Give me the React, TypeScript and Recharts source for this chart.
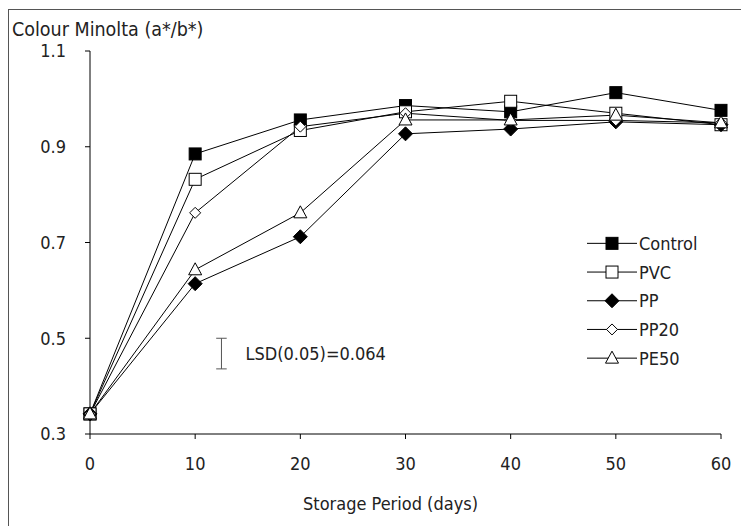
import React from 'react';
import { LineChart, Line, XAxis, YAxis, Legend, ReferenceLine } from 'recharts';

const days = [0, 10, 20, 30, 40, 50, 60];
const control = [0.342, 0.885, 0.956, 0.986, 0.973, 1.013, 0.976];
const pvc = [0.342, 0.832, 0.934, 0.973, 0.995, 0.97, 0.946];
const pp = [0.342, 0.614, 0.712, 0.927, 0.937, 0.952, 0.946];
const pp20 = [0.342, 0.762, 0.942, 0.97, 0.955, 0.955, 0.95];
const pe50 = [0.342, 0.643, 0.762, 0.956, 0.956, 0.966, 0.95];

const seriesNames = ['Control', 'PVC', 'PP', 'PP20', 'PE50'];
const seriesValues = [control, pvc, pp, pp20, pe50];
const seriesShapes = ['squareFilled', 'squareOpen', 'diamondFilled', 'diamondOpen', 'triangleOpen'];

const xTicks = [0, 10, 20, 30, 40, 50, 60];
const yTicks = [0.3, 0.5, 0.7, 0.9, 1.1];

const lsdLabel = 'LSD(0.05)=0.064';
const lsdValue = 0.064;
const lsdDay = 12.5;
const lsdTop = 0.5;
const lsdCapHalf = 0.5;

const data = days.map((d, i) => {
  const row: Record<string, number> = { day: d };
  seriesNames.forEach((n, j) => {
    row[n] = seriesValues[j][i];
  });
  return row;
});

const FONT = "'DejaVu Sans Condensed', 'DejaVu Sans', sans-serif";
const TXT = '#222';

function Marker({ cx, cy, shape }: { cx: number; cy: number; shape: string }) {
  switch (shape) {
    case 'squareFilled':
      return <rect x={cx - 6} y={cy - 6} width={12} height={12} fill="#000" stroke="#000" strokeWidth={1} />;
    case 'squareOpen':
      return <rect x={cx - 6} y={cy - 6} width={12} height={12} fill="#fff" stroke="#000" strokeWidth={1} />;
    case 'diamondFilled':
      return (
        <polygon
          points={`${cx},${cy - 7} ${cx + 7},${cy} ${cx},${cy + 7} ${cx - 7},${cy}`}
          fill="#000"
          stroke="#000"
          strokeWidth={1}
        />
      );
    case 'diamondOpen':
      return (
        <polygon
          points={`${cx},${cy - 5.5} ${cx + 5.5},${cy} ${cx},${cy + 5.5} ${cx - 5.5},${cy}`}
          fill="#fff"
          stroke="#000"
          strokeWidth={1}
        />
      );
    default:
      return (
        <polygon
          points={`${cx},${cy - 7} ${cx + 6.5},${cy + 5} ${cx - 6.5},${cy + 5}`}
          fill="#fff"
          stroke="#000"
          strokeWidth={1}
        />
      );
  }
}

const makeDot = (shape: string) => (props: any) => {
  const { cx, cy, index } = props;
  if (cx == null || cy == null) return <g key={`d-${shape}-${index}`} />;
  return (
    <g key={`d-${shape}-${index}`}>
      <Marker cx={cx} cy={cy} shape={shape} />
    </g>
  );
};

const ROW_H = 28.7;

const renderLegend = () => (
  <svg width={160} height={ROW_H * seriesNames.length} style={{ display: 'block', overflow: 'visible' }}>
    {seriesNames.map((n, i) => {
      const y = ROW_H / 2 + i * ROW_H;
      return (
        <g key={n}>
          <line x1={0} x2={50} y1={y} y2={y} stroke="#000" strokeWidth={1} />
          <Marker cx={25} cy={y} shape={seriesShapes[i]} />
          <text x={52} y={y} dy="0.36em" fontFamily={FONT} fontSize={18} fill={TXT}>
            {n}
          </text>
        </g>
      );
    })}
  </svg>
);

export default function App() {
  return (
    <div
      style={{
        position: 'relative',
        top: 1,
        width: 740,
        height: 517,
        borderLeft: '1px solid #555',
        borderTop: '1px solid #555',
        background: '#fff',
      }}
    >
      <LineChart width={740} height={517} data={data} margin={{ top: 41, right: 28, bottom: 33, left: 0 }}>
        <XAxis
          dataKey="day"
          type="number"
          domain={[0, 60]}
          ticks={xTicks}
          interval={0}
          height={60}
          tickSize={5}
          tickMargin={18}
          stroke="#000"
          tick={{ fill: TXT, fontSize: 18, fontFamily: FONT }}
          label={{
            content: (p: any) => {
              const vb = p.viewBox || {};
              return (
                <text
                  x={vb.x + vb.width / 2 - 15}
                  y={vb.y + vb.height + 16}
                  textAnchor="middle"
                  fontFamily={FONT}
                  fontSize={18}
                  fill={TXT}
                >
                  Storage Period (days)
                </text>
              );
            },
          }}
        />
        <YAxis
          type="number"
          domain={[0.3, 1.1]}
          ticks={yTicks}
          interval={0}
          width={81}
          tickSize={5}
          tickMargin={19}
          stroke="#000"
          tickFormatter={(v: number) => v.toFixed(1)}
          tick={{ fill: TXT, fontSize: 18, fontFamily: FONT }}
          label={{
            content: (p: any) => {
              const vb = p.viewBox || {};
              return (
                <text x={vb.x + 3} y={vb.y - 15} textAnchor="start" fontFamily={FONT} fontSize={19.5} fill={TXT}>
                  Colour Minolta (a*/b*)
                </text>
              );
            },
          }}
        />
        <ReferenceLine
          segment={[
            { x: lsdDay, y: lsdTop },
            { x: lsdDay, y: lsdTop - lsdValue },
          ]}
          stroke="#555"
          strokeWidth={1}
          label={{ value: lsdLabel, position: 'right', offset: 24, fill: TXT, fontSize: 18, fontFamily: FONT }}
        />
        <ReferenceLine
          segment={[
            { x: lsdDay - lsdCapHalf, y: lsdTop },
            { x: lsdDay + lsdCapHalf, y: lsdTop },
          ]}
          stroke="#555"
          strokeWidth={1}
        />
        <ReferenceLine
          segment={[
            { x: lsdDay - lsdCapHalf, y: lsdTop - lsdValue },
            { x: lsdDay + lsdCapHalf, y: lsdTop - lsdValue },
          ]}
          stroke="#555"
          strokeWidth={1}
        />
        {seriesNames.map((n, i) => (
          <Line
            key={n}
            dataKey={n}
            type="linear"
            stroke="#000"
            strokeWidth={1}
            dot={makeDot(seriesShapes[i])}
            activeDot={false}
            isAnimationActive={false}
          />
        ))}
        <Legend
          layout="vertical"
          align="center"
          verticalAlign="middle"
          content={renderLegend}
          wrapperStyle={{ left: 578, top: 219, width: 160, position: 'absolute' }}
        />
      </LineChart>
    </div>
  );
}
